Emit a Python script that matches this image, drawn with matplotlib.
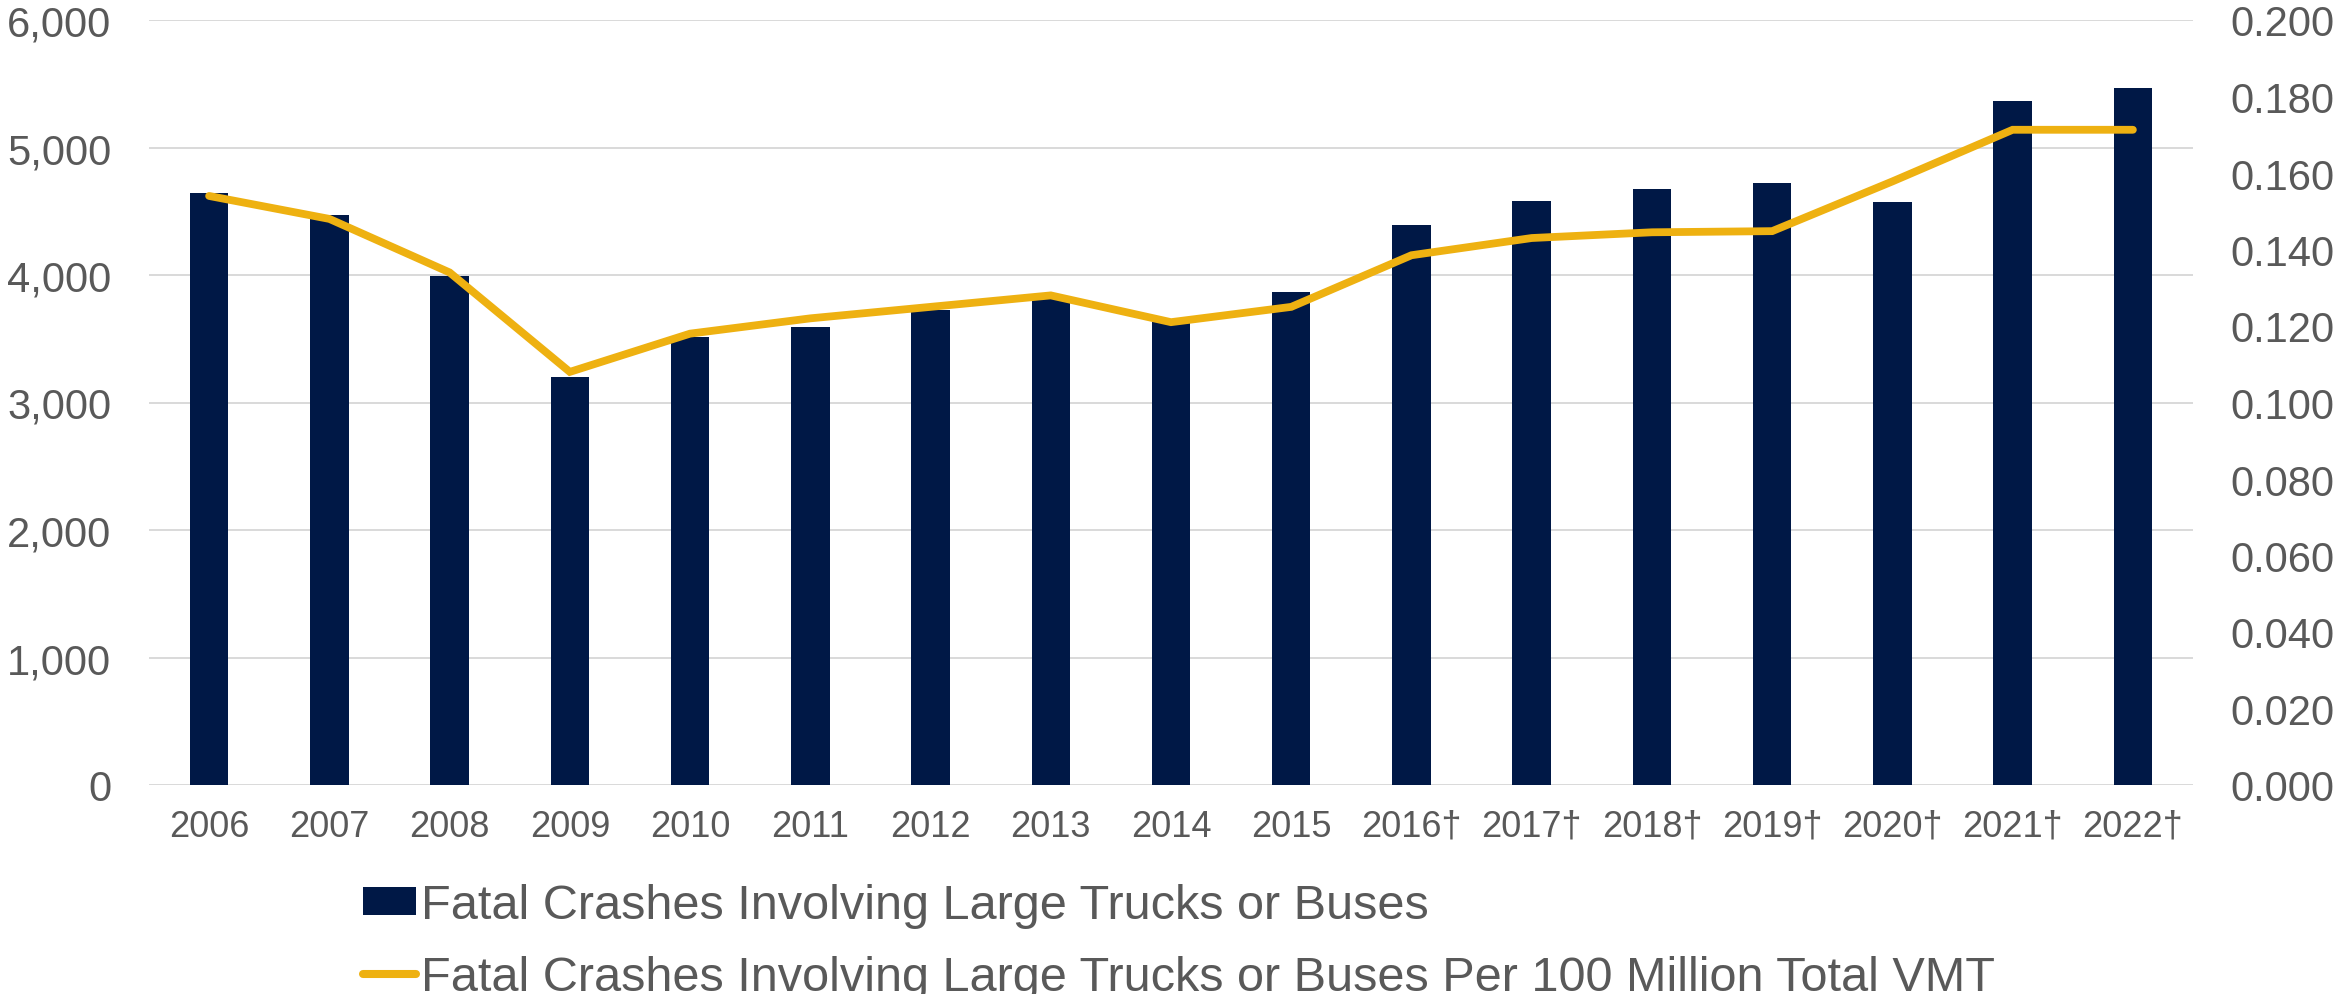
import matplotlib
matplotlib.use("Agg")
import matplotlib.pyplot as plt
from matplotlib.ticker import FuncFormatter, FixedLocator
from matplotlib.patches import Patch
from matplotlib.lines import Line2D

plt.rcParams['font.family'] = ['Liberation Sans', 'DejaVu Sans']

years = ['2006', '2007', '2008', '2009', '2010', '2011', '2012', '2013', '2014',
         '2015', '2016†', '2017†', '2018†', '2019†', '2020†', '2021†', '2022†']
crashes = [4642, 4470, 3995, 3197, 3517, 3595, 3727, 3826, 3630,
           3865, 4395, 4584, 4675, 4722, 4574, 5366, 5470]
rate = [0.154, 0.148, 0.134, 0.108, 0.118, 0.122, 0.125, 0.128, 0.121,
        0.125, 0.1385, 0.143, 0.1445, 0.1448, 0.1578, 0.1713, 0.1713]
left_ticks = [0, 1000, 2000, 3000, 4000, 5000, 6000]
right_ticks = [0.0, 0.02, 0.04, 0.06, 0.08, 0.10, 0.12, 0.14, 0.16, 0.18, 0.20]

bar_label = 'Fatal Crashes Involving Large Trucks or Buses'
line_label = 'Fatal Crashes Involving Large Trucks or Buses Per 100 Million Total VMT'

NAVY = '#001846'
GOLD = '#EEB111'
TXT = '#595959'
GRID = '#D9D9D9'

W, H = 2338, 995
fig = plt.figure(figsize=(W / 100, H / 100), dpi=100)
ax = fig.add_axes([149 / W, 1 - 786 / H, (2193 - 149) / W, (786 - 21) / H])
ax2 = ax.twinx()

x = list(range(len(years)))
ax.bar(x, crashes, width=0.32, color=NAVY, zorder=2)
ax.set_ylim(0, 6000)
ax.set_xlim(-0.5, len(years) - 0.5)
ax.yaxis.set_major_locator(FixedLocator(left_ticks))
ax.yaxis.set_major_formatter(FuncFormatter(lambda v, p: f'{int(v):,}'))
ax.grid(axis='y', color=GRID, linewidth=1.4, zorder=0)
ax.set_axisbelow(True)
ax.set_xticks(x)
ax.set_xticklabels(years)
ax.tick_params(axis='x', length=0, pad=17, labelsize=26, labelcolor=TXT)
ax.tick_params(axis='y', length=0, pad=27, labelsize=30, labelcolor=TXT)

ax2.plot(x, rate, color=GOLD, linewidth=5.6, solid_capstyle='round',
         solid_joinstyle='miter', zorder=3)
ax2.set_ylim(0, 0.2)
ax2.yaxis.set_major_locator(FixedLocator(right_ticks))
ax2.yaxis.set_major_formatter(FuncFormatter(lambda v, p: f'{v:.3f}'))
ax2.tick_params(axis='y', length=0, pad=27, labelsize=30, labelcolor=TXT)

for a in (ax, ax2):
    for s in a.spines.values():
        s.set_visible(False)

handles = [Patch(facecolor=NAVY, edgecolor='none'),
           Line2D([0], [0], color=GOLD, linewidth=5.8, solid_capstyle='round')]
leg = fig.legend(handles, [bar_label, line_label], loc='upper left',
                 bbox_to_anchor=(363 / W, 1 - 884 / H), frameon=False,
                 fontsize=35, handlelength=1.08, handleheight=0.5,
                 handletextpad=0.12, labelspacing=0.55, borderpad=0,
                 borderaxespad=0)
for t in leg.get_texts():
    t.set_color(TXT)

fig.savefig('out.png', dpi=100)
